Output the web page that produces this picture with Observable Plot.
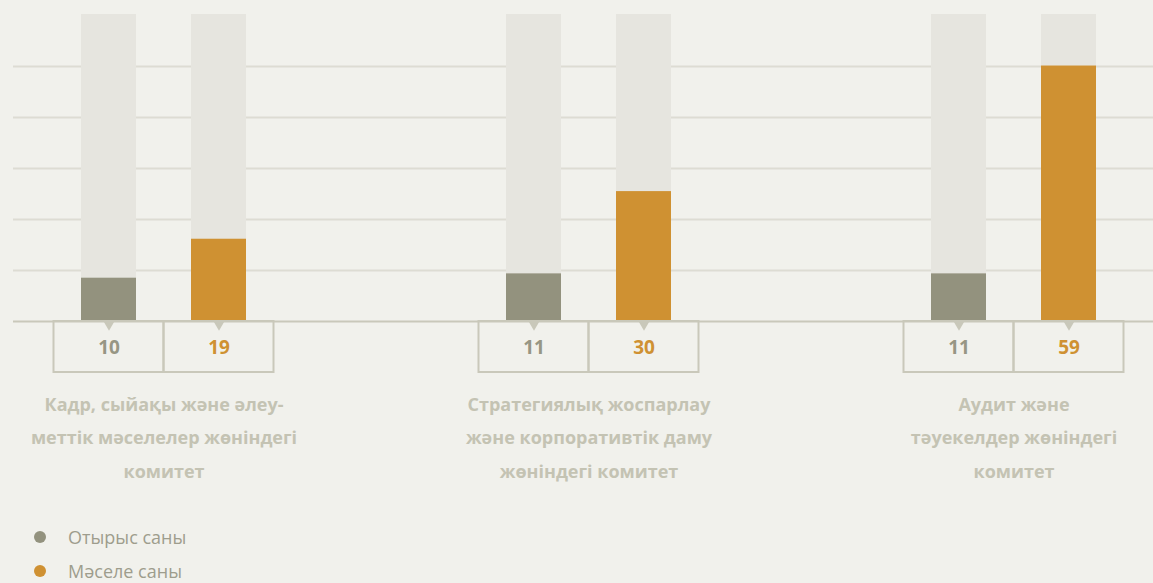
<!DOCTYPE html>
<html>
<head>
<meta charset="utf-8">
<script src="https://cdn.jsdelivr.net/npm/d3@7"></script>
<script src="https://cdn.jsdelivr.net/npm/@observablehq/plot@0.6"></script>
<style>
  html, body { margin: 0; padding: 0; background: #f1f1ec; }
  #chart svg { display: block; background: transparent; }
  .legend { margin: 10px 0 0 0; font-family: "Open Sans", sans-serif; font-size: 18px; color: #9e9d8d; }
  .legend .item { height: 34px; line-height: 34px; display: flex; align-items: center; }
  .legend .dot { width: 12px; height: 12px; border-radius: 50%; margin-left: 34px; margin-right: 22px; }
</style>
</head>
<body>
<div id="chart"></div>
<div class="legend" id="legend"></div>
<script>
// ---- data ----
const committees = [
  "Кадр, сыйақы және әлеу-\nметтік мәселелер жөніндегі\nкомитет",
  "Стратегиялық жоспарлау\nжәне корпоративтік даму\nжөніндегі комитет",
  "Аудит және\nтәуекелдер жөніндегі\nкомитет"
];
const seriesNames = ["Отырыс саны", "Мәселе саны"];
const meetings = [10, 11, 11];   // Отырыс саны
const issues = [19, 30, 59];     // Мәселе саны
const scaleMax = 70.9;           // height of the pale background columns
const gridValues = [11.78, 23.56, 35.33, 47.11, 58.89];

const colors = ["#93927e", "#cf9132"];
const textColors = ["#979684", "#cf9132"];

const rowsA = committees.map((c, i) => ({committee: c, value: meetings[i], max: scaleMax}));
const rowsB = committees.map((c, i) => ({committee: c, value: issues[i], max: scaleMax}));

const font = "'Open Sans', sans-serif";
const lineColor = "#c9c8ba";
// within each committee band (275 px): bar A occupies 55..110, bar B 165..220
const insA = {insetLeft: 55, insetRight: 165};
const insB = {insetLeft: 165, insetRight: 55};
const boxA = {insetLeft: 27.5, insetRight: 137.5};
const boxB = {insetLeft: 137.5, insetRight: 27.5};

const plot = Plot.plot({
  width: 1153,
  height: 510,
  marginLeft: 26,
  marginRight: 2,
  marginTop: 14,
  marginBottom: 189,
  style: {background: "transparent", fontFamily: font},
  x: {type: "band", domain: committees, paddingInner: 150 / 425, paddingOuter: 0, axis: null},
  y: {domain: [0, scaleMax], axis: null},
  marks: [
    Plot.ruleY(gridValues, {stroke: "#dddcd3", strokeWidth: 2, insetLeft: -13, insetRight: -2}),
    Plot.barY(rowsA, {x: "committee", y: "max", fill: "#e6e5df", ...insA}),
    Plot.barY(rowsB, {x: "committee", y: "max", fill: "#e6e5df", ...insB}),
    Plot.barY(rowsA, {x: "committee", y: "value", fill: colors[0], ...insA}),
    Plot.barY(rowsB, {x: "committee", y: "value", fill: colors[1], ...insB}),
    Plot.barY(rowsA, {x: "committee", y1: 0, y2: 0, insetBottom: -51, fill: "none", stroke: lineColor, strokeWidth: 2, ...boxA}),
    Plot.barY(rowsB, {x: "committee", y1: 0, y2: 0, insetBottom: -51, fill: "none", stroke: lineColor, strokeWidth: 2, ...boxB}),
    Plot.ruleY([0], {stroke: lineColor, strokeWidth: 2, insetLeft: -13, insetRight: -2}),
    Plot.dot(rowsA, {x: "committee", y: 0, dx: -55, dy: 3, symbol: "triangle", rotate: 180, r: 4, fill: lineColor, stroke: "none"}),
    Plot.dot(rowsB, {x: "committee", y: 0, dx: 55, dy: 3, symbol: "triangle", rotate: 180, r: 4, fill: lineColor, stroke: "none"}),
    Plot.text(rowsA, {x: "committee", y: 0, text: "value", dx: -55, dy: 26, fill: textColors[0], fontSize: 19, fontWeight: 700}),
    Plot.text(rowsB, {x: "committee", y: 0, text: "value", dx: 55, dy: 26, fill: textColors[1], fontSize: 19, fontWeight: 700}),
    Plot.text(committees, {x: d => d, y: 0, text: d => d, dy: 66, lineAnchor: "top", lineHeight: 1.85, fill: "#c4c3b3", fontSize: 18, fontWeight: 700})
  ]
});
document.getElementById("chart").appendChild(plot);

const legend = document.getElementById("legend");
seriesNames.forEach((name, i) => {
  const item = document.createElement("div");
  item.className = "item";
  const dot = document.createElement("span");
  dot.className = "dot";
  dot.style.background = colors[i];
  const label = document.createElement("span");
  label.textContent = name;
  item.appendChild(dot);
  item.appendChild(label);
  legend.appendChild(item);
});
</script>
</body>
</html>
